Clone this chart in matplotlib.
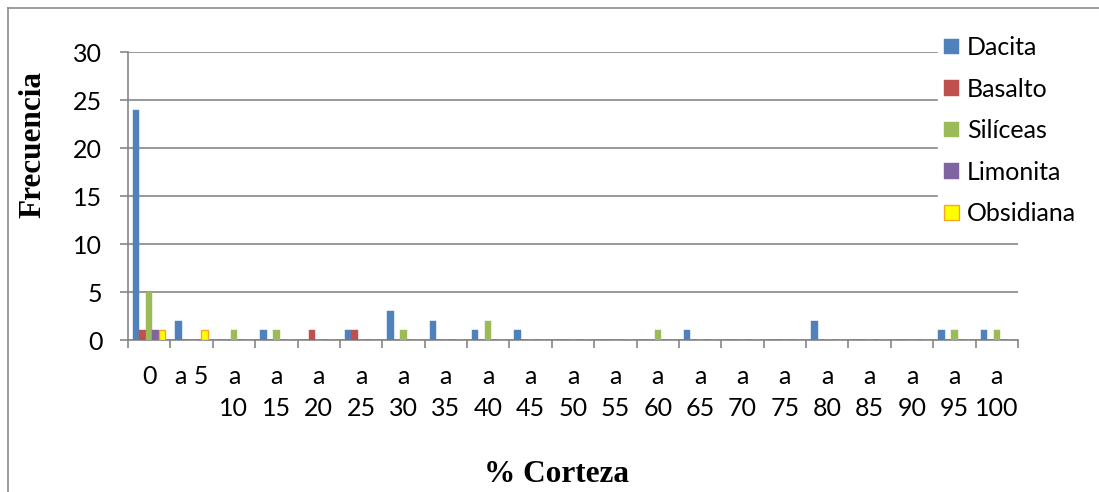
import numpy as np
import matplotlib
matplotlib.use("Agg")
import matplotlib.pyplot as plt
from matplotlib.lines import Line2D

# Bin labels along the x axis (wrapped as in the original spreadsheet chart)
categories = ["0", "a 5", "a\n10", "a\n15", "a\n20", "a\n25", "a\n30", "a\n35",
              "a\n40", "a\n45", "a\n50", "a\n55", "a\n60", "a\n65", "a\n70",
              "a\n75", "a\n80", "a\n85", "a\n90", "a\n95", "a\n100"]

dacita    = [24, 2, 0, 1, 0, 1, 3, 2, 1, 1, 0, 0, 0, 1, 0, 0, 2, 0, 0, 1, 1]
basalto   = [1, 0, 0, 0, 1, 1, 0, 0, 0, 0, 0, 0, 0, 0, 0, 0, 0, 0, 0, 0, 0]
siliceas  = [5, 0, 1, 1, 0, 0, 1, 0, 2, 0, 0, 0, 1, 0, 0, 0, 0, 0, 0, 1, 1]
limonita  = [1, 0, 0, 0, 0, 0, 0, 0, 0, 0, 0, 0, 0, 0, 0, 0, 0, 0, 0, 0, 0]
obsidiana = [1, 1, 0, 0, 0, 0, 0, 0, 0, 0, 0, 0, 0, 0, 0, 0, 0, 0, 0, 0, 0]

series_names = ["Dacita", "Basalto", "Silíceas", "Limonita", "Obsidiana"]
series_values = [dacita, basalto, siliceas, limonita, obsidiana]
face_colors = ["#4F81BD", "#C0504D", "#9BBB59", "#8064A2", "#FFFF00"]
edge_colors = ["#4F81BD", "#C0504D", "#9BBB59", "#8064A2", "#F5A623"]

y_ticks = [0, 5, 10, 15, 20, 25, 30]

W, H = 1099, 492
fig = plt.figure(figsize=(W / 100, H / 100), dpi=100)
fig.patch.set_facecolor("white")

# Chart-area border (top and left edges)
fig.add_artist(Line2D([8 / W, 8 / W], [0, 1 - 8 / H], transform=fig.transFigure,
                      color="#8C8C8C", lw=1.2))
fig.add_artist(Line2D([8 / W, 1], [1 - 8 / H, 1 - 8 / H], transform=fig.transFigure,
                      color="#8C8C8C", lw=1.2))

left, right, bottom, top = 128, 1018, 340, 52
ax = fig.add_axes([left / W, 1 - bottom / H, (right - left) / W, (bottom - top) / H])

n_cat = len(categories)
n_ser = len(series_names)
gap = 1.5
bar_w = 1.0 / (n_ser + gap)
x = np.arange(n_cat)
for i, (name, vals) in enumerate(zip(series_names, series_values)):
    offs = -0.5 + gap * bar_w / 2 + (i + 0.5) * bar_w
    ax.bar(x + offs, vals, width=bar_w, color=face_colors[i],
           edgecolor=edge_colors[i], linewidth=1.0 if i == 4 else 0.3,
           label=name, zorder=3)

ax.set_xlim(-0.5, n_cat - 0.5)
ax.set_ylim(0, 30)

grid_c = "#868686"
for s in ["top", "right"]:
    ax.spines[s].set_visible(False)
for s in ["left", "bottom"]:
    ax.spines[s].set_color(grid_c)
    ax.spines[s].set_linewidth(1.2)

tick_font = "Lato"
tick_size = 18

ax.set_yticks(y_ticks)
ax.yaxis.grid(True, color=grid_c, linewidth=1.2, zorder=0)
ax.set_axisbelow(True)
ax.tick_params(axis="y", direction="out", length=5.5, width=1.2, color=grid_c,
               labelsize=tick_size, pad=13)

# Major ticks at bin boundaries, labels at bin centres
ax.set_xticks(np.arange(-0.5, n_cat, 1.0))
ax.set_xticklabels([])
ax.tick_params(axis="x", which="major", direction="out", length=6, width=1.2,
               color=grid_c)
ax.set_xticks(x, minor=True)
ax.set_xticklabels(categories, minor=True, linespacing=1.45)
ax.tick_params(axis="x", which="minor", length=0, labelsize=tick_size, pad=18)

for lab in ax.get_xticklabels(minor=True) + ax.get_yticklabels():
    lab.set_fontfamily(tick_font)

fig.text(33 / W, 1 - 144 / H, "Frecuencia", rotation=90, ha="center", va="center",
         fontfamily="Liberation Serif", fontweight="bold", fontsize=22.5)
fig.text(556 / W, 1 - 475 / H, "% Corteza", ha="center", va="center",
         fontfamily="Liberation Serif", fontweight="bold", fontsize=22.5)

leg = fig.legend(loc="upper left", bbox_to_anchor=(938 / W, 1 - 30 / H),
                 frameon=True, fancybox=False, edgecolor="white", facecolor="white",
                 framealpha=1.0, prop={"family": tick_font, "size": tick_size},
                 handlelength=0.6, handleheight=0.6, handletextpad=0.3,
                 labelspacing=0.74, borderpad=0.25, borderaxespad=0)

fig.savefig("out.png", dpi=100, facecolor="white")
